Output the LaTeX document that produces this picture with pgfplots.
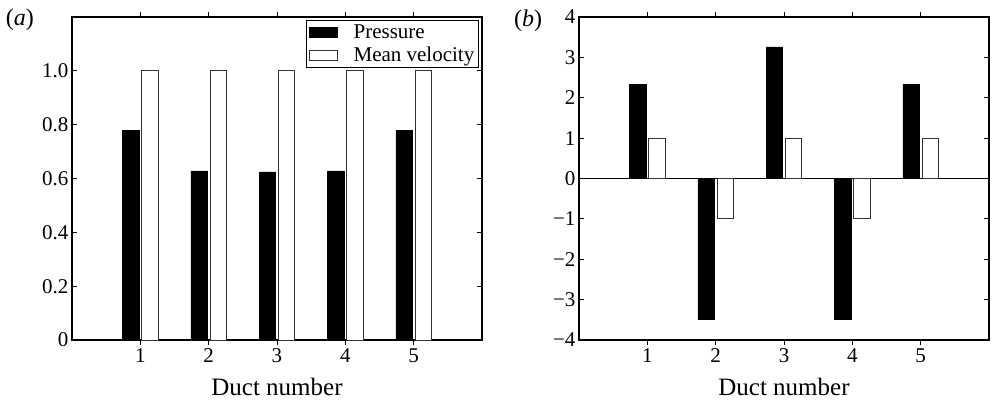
\documentclass[border=0pt]{standalone}
\usepackage{pgfplots}
\pgfplotsset{compat=1.18}
\usepackage{fontspec}
\setmainfont{Liberation Serif}
\begin{document}
\begin{tikzpicture}
\pgfplotsset{
 every axis/.append style={
  scale only axis, width=410pt, height=323pt,
  xmin=0, xmax=6, xtick={1,2,3,4,5},
  tick align=inside, major tick length=5pt,
  tick style={black, line width=0.8pt},
  axis line style={line width=1.1pt},
  ybar, bar width=0.24,
  ticklabel style={font=\fontsize{21}{21}\selectfont},
  xlabel={Duct number},
  xlabel style={font=\fontsize{25}{25}\selectfont, yshift=-9pt},
  /pgf/number format/assume math mode=true,
  clip=false,
 }
}
\begin{axis}[name=A,
  ymin=0, ymax=1.2, ytick={0,0.2,0.4,0.6,0.8,1.0},
  yticklabels={0,0.2,0.4,0.6,0.8,1.0},
  legend cell align=left,
  legend style={at={(0.992,0.99)}, anchor=north east, draw=black, line width=0.8pt,
    font=\fontsize{21}{21}\selectfont, inner sep=2pt, row sep=3pt},
  legend image code/.code={\draw[#1, line width=0.8pt] (0pt,-5pt) rectangle (28pt,5pt);},
]
\addplot[fill=black, draw=black, bar shift=-0.14] coordinates {(1,0.78) (2,0.628) (3,0.625) (4,0.628) (5,0.78)};
\addplot[fill=white, draw=black!80, line width=0.8pt, bar shift=0.14] coordinates {(1,1) (2,1) (3,1) (4,1) (5,1)};
\legend{\hspace*{14pt}Pressure, \hspace*{14pt}Mean velocity}
\node at (rel axis cs:-0.127,0.99) {\fontsize{24}{24}\selectfont(\textit{a})};
\end{axis}
\begin{axis}[name=B, at={(507pt,0pt)},
  ymin=-4, ymax=4, ytick={-4,-3,-2,-1,0,1,2,3,4},
  yticklabels={−4,−3,−2,−1,0,1,2,3,4},
  extra y ticks={0}, extra y tick labels={},
  extra y tick style={grid=major, major grid style={black, line width=0.8pt}},
]
\addplot[fill=black, draw=black, bar shift=-0.14] coordinates {(1,2.33) (2,-3.49) (3,3.26) (4,-3.49) (5,2.33)};
\addplot[fill=white, draw=black!80, line width=0.8pt, bar shift=0.14] coordinates {(1,1) (2,-1) (3,1) (4,-1) (5,1)};
\node at (rel axis cs:-0.124,0.99) {\fontsize{24}{24}\selectfont(\textit{b})};
\end{axis}
\path (A.south west) ++(-72pt,-62pt) rectangle ++(992pt,402pt);
\end{tikzpicture}
\end{document}
